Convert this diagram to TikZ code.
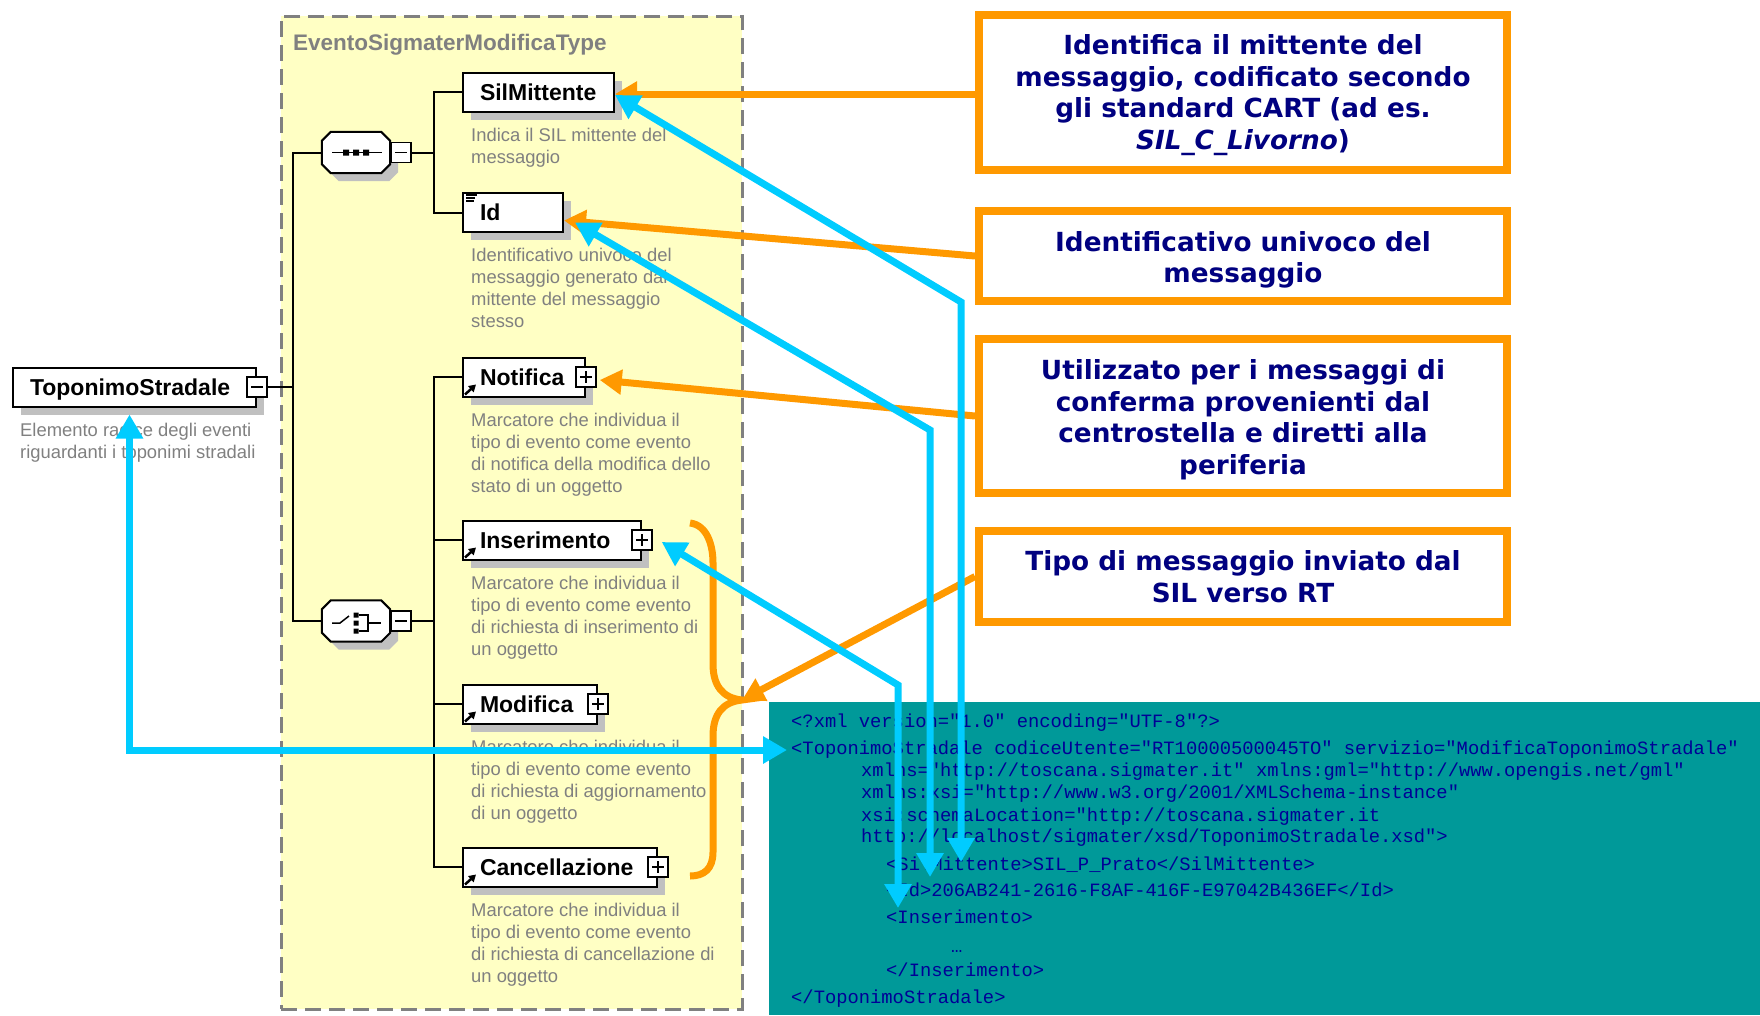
\documentclass[tikz,border=0pt]{standalone}
\usepackage{fontspec}
\setmainfont{Liberation Sans}
\newfontfamily\notefont{DejaVu Sans}
\newfontfamily\xmlfont{Liberation Mono}
\usetikzlibrary{arrows.meta, positioning, shadows}

\definecolor{calloutorange}{RGB}{255,153,0}
\definecolor{linkblue}{RGB}{0,204,255}
\definecolor{notenavy}{RGB}{0,0,128}
\definecolor{xmlnavy}{RGB}{0,0,150}
\definecolor{xmlteal}{RGB}{0,153,153}
\definecolor{typeyellow}{RGB}{255,255,196}
\definecolor{descgray}{RGB}{128,128,128}
\definecolor{shadowgray}{RGB}{192,192,192}

\begin{document}
\begin{tikzpicture}[x=1pt, y=-1pt]

\tikzset{typebox/.style = {draw=descgray, line width=2.5pt, dash pattern=on 16pt off 8pt, fill=typeyellow, anchor=north west, inner sep=0pt, minimum width=461pt, minimum height=993pt}}
\tikzset{typetitle/.style = {anchor=west, inner sep=0pt, text=descgray, font=\bfseries\fontsize{22.5}{27}\selectfont}}
\tikzset{boxshadow/.style = {drop shadow={shadow xshift=8pt, shadow yshift=-8pt, fill=shadowgray, opacity=1}}}
\tikzset{elem/.style = {draw, line width=2pt, fill=white, boxshadow, anchor=west, align=left, inner xsep=17pt, inner ysep=0pt, minimum height=39pt, text height=17pt, text depth=1pt, font=\bfseries\fontsize{23}{27}\selectfont, execute at begin node={\hyphenpenalty=10000\relax}}}
\tikzset{comp/.style = {inner sep=0pt, minimum width=68pt, minimum height=41pt}}
\tikzset{compline/.style = {draw, line width=2pt, fill=white, boxshadow}}
\tikzset{pm/.style = {draw, line width=1.5pt, fill=white, inner sep=0pt, minimum size=20pt}}
\tikzset{plusbox/.style = {pm, path picture={\draw[line width=1.5pt] ([xshift=4pt]path picture bounding box.west) -- ([xshift=-4pt]path picture bounding box.east) ([yshift=-4pt]path picture bounding box.north) -- ([yshift=4pt]path picture bounding box.south);}}}
\tikzset{minusbox/.style = {pm, path picture={\draw[line width=1.5pt] ([xshift=4pt]path picture bounding box.west) -- ([xshift=-4pt]path picture bounding box.east);}}}
\tikzset{tree/.style = {line width=2pt}}
\tikzset{refarrow/.style = {line width=2.5pt, -{Triangle[length=7pt,width=8pt]}}}
\tikzset{desc/.style = {inner sep=0pt, align=left, text=descgray, font=\fontsize{18.4}{22}\selectfont, execute at begin node=\strut}}
\tikzset{note/.style = {draw=calloutorange, line width=8pt, fill=white, minimum width=528pt}}
\tikzset{notetext/.style = {align=center, text=notenavy, font=\notefont\bfseries\fontsize{26.3}{31.7}\selectfont}}
\tikzset{xmlbox/.style = {fill=xmlteal, anchor=north west, inner sep=0pt, minimum width=991pt, minimum height=313pt}}
\tikzset{xml/.style = {anchor=west, inner xsep=4pt, inner ysep=0pt, text=xmlnavy, font=\xmlfont\fontsize{18.8}{22}\selectfont, execute at begin node=\strut}}
\tikzset{bracepath/.style = {draw=calloutorange, line width=7pt}}
\tikzset{callout/.style = {draw=calloutorange, line width=7pt, >={Triangle[length=22pt,width=24pt]}, ->}}
\tikzset{link/.style = {draw=linkblue, line width=7pt, >={Triangle[length=24pt,width=26pt]}, <->}}

\useasboundingbox (0,0) rectangle (1760,1015);

%type box
\node[typebox] (type) at (280,15) {};
\node[typetitle] (type-title) at (293,45) {EventoSigmaterModificaType};

%elements
\node[elem, text width=209pt] (topo) at (12,387) {ToponimoStradale};
\node[minusbox] (topo-pm) at (topo.east) {};
\node[comp] (seq) at (356,152.5) {};
\draw[compline] ([xshift=9pt]seq.north west) -- ([xshift=-9pt]seq.north east) -- ([yshift=-9pt]seq.north east) -- ([yshift=9pt]seq.south east) -- ([xshift=-9pt]seq.south east) -- ([xshift=9pt]seq.south west) -- ([yshift=9pt]seq.south west) -- ([yshift=-9pt]seq.north west) -- cycle;
\node[minusbox, anchor=west] (seq-pm) at (seq.east) {};
\node[comp] (choice) at (356,621) {};
\draw[compline] ([xshift=9pt]choice.north west) -- ([xshift=-9pt]choice.north east) -- ([yshift=-9pt]choice.north east) -- ([yshift=9pt]choice.south east) -- ([xshift=-9pt]choice.south east) -- ([xshift=9pt]choice.south west) -- ([yshift=9pt]choice.south west) -- ([yshift=-9pt]choice.north west) -- cycle;
\node[minusbox, anchor=west] (choice-pm) at (choice.east) {};
\node[elem, text width=117pt] (sil) at (462,92) {SilMittente};
\node[elem, text width=66pt] (id) at (462,212.5) {Id};
\node[elem, text width=88pt] (not) at (462,377) {Notifica};
\node[plusbox] (not-pm) at (not.east) {};
\node[elem, text width=144pt] (ins) at (462,540) {Inserimento};
\node[plusbox] (ins-pm) at (ins.east) {};
\node[elem, text width=100pt] (mod) at (462,704) {Modifica};
\node[plusbox] (mod-pm) at (mod.east) {};
\node[elem, text width=160pt] (canc) at (462,867) {Cancellazione};
\node[plusbox] (canc-pm) at (canc.east) {};

%tree
\coordinate (root-bus) at (293,387);
\draw[tree] (topo-pm.east) -- (root-bus);
\draw[tree] (seq.west) -| (root-bus |- choice.west) -- (choice.west);
\coordinate (seq-bus) at ([xshift=22pt]seq-pm.east);
\draw[tree] (seq-pm.east) -- (seq-bus);
\draw[tree] (sil.west) -| (seq-bus) |- (id.west);
\coordinate (choice-bus) at ([xshift=22pt]choice-pm.east);
\draw[tree] (choice-pm.east) -- (choice-bus);
\draw[tree] (not.west) -| (choice-bus) |- (canc.west);
\draw[tree] (ins.west) -- (ins.west -| choice-bus);
\draw[tree] (mod.west) -- (mod.west -| choice-bus);

%icons
\begin{scope}[shift={(seq.center)}, line width=1.5pt]
\draw (-24,0) -- (26,0);
\fill (-13,-3) rectangle (-7,3) (-3,-3) rectangle (3,3) (7,-3) rectangle (13,3);
\end{scope}
\begin{scope}[shift={(choice.center)}, line width=1.5pt]
\draw (-24,2) -- (-16,2) -- (-7,-5);
\fill (-2.5,-8.5) rectangle (2.5,-3.5) (-2.5,-0.5) rectangle (2.5,4.5) (-2.5,7.5) rectangle (2.5,12.5);
\draw (2.5,-6) -- (12,-6) -- (12,10) -- (2.5,10) (12,2) -- (25,2);
\end{scope}
\draw[line width=1.2pt] ([shift={(4,3)}]id.north west) -- ++(11,0) ([shift={(4,6)}]id.north west) -- ++(9,0) ([shift={(4,9)}]id.north west) -- ++(8,0);
\draw[refarrow] ([shift={(3,-3)}]not.south west) -- ++(11,-10);
\draw[refarrow] ([shift={(3,-3)}]ins.south west) -- ++(11,-10);
\draw[refarrow] ([shift={(3,-3)}]mod.south west) -- ++(11,-10);
\draw[refarrow] ([shift={(3,-3)}]canc.south west) -- ++(11,-10);

%descriptions
\node[desc, below right=15pt and 8pt of topo.south west] (topo-desc) {Elemento radice degli eventi\\riguardanti i toponimi stradali};
\node[desc, below right=15pt and 9pt of sil.south west] (sil-desc) {Indica il SIL mittente del\\messaggio};
\node[desc, below right=15pt and 9pt of id.south west] (id-desc) {Identificativo univoco del\\messaggio generato dal\\mittente del messaggio\\stesso};
\node[desc, below right=15pt and 9pt of not.south west] (not-desc) {Marcatore che individua il\\tipo di evento come evento\\di notifica della modifica dello\\stato di un oggetto};
\node[desc, below right=15pt and 9pt of ins.south west] (ins-desc) {Marcatore che individua il\\tipo di evento come evento\\di richiesta di inserimento di\\un oggetto};
\node[desc, below right=15pt and 9pt of mod.south west] (mod-desc) {Marcatore che individua il\\tipo di evento come evento\\di richiesta di aggiornamento\\di un oggetto};
\node[desc, below right=15pt and 9pt of canc.south west] (canc-desc) {Marcatore che individua il\\tipo di evento come evento\\di richiesta di cancellazione di\\un oggetto};

%xml
\node[xmlbox] (xml-box) at (769,702) {};
\node[xml] (xml-head) at (787,723) {<?xml version="1.0" encoding="UTF-8"?>};
\node[xml] (xml-root) at (787,750) {<ToponimoStradale codiceUtente="RT10000500045TO" servizio="ModificaToponimoStradale"};
\node[xml] (xml-ns) at (857,772) {xmlns="http://toscana.sigmater.it" xmlns:gml="http://www.opengis.net/gml"};
\node[xml] (xml-xsi) at (857,794) {xmlns:xsi="http://www.w3.org/2001/XMLSchema-instance"};
\node[xml] (xml-loc) at (857,817) {xsi:schemaLocation="http://toscana.sigmater.it};
\node[xml] (xml-xsd) at (857,838) {http://localhost/sigmater/xsd/ToponimoStradale.xsd">};
\node[xml] (xml-sil) at (882,866) {<SilMittente>SIL\_P\_Prato</SilMittente>};
\node[xml] (xml-id) at (882,892) {<Id>206AB241-2616-F8AF-416F-E97042B436EF</Id>};
\node[xml] (xml-ins) at (882,919) {<Inserimento>};
\node[xml] (xml-dots) at (947,948) {…};
\node[xml] (xml-insend) at (882,972) {</Inserimento>};
\node[xml] (xml-end) at (787,999) {</ToponimoStradale>};

%notes
\node[note, minimum height=155pt, label={[notetext, yshift=-3.2pt]center:{Identifica il mittente del\\messaggio, codificato secondo\\gli standard CART (ad es.\\\textit{SIL\_C\_Livorno})}}] (note-sil) at (1243,92) {};
\node[note, minimum height=90pt, label={[notetext, yshift=-3.8pt]center:{Identificativo univoco del\\messaggio}}] (note-id) at (1243,256) {};
\node[note, minimum height=154pt, label={[notetext, yshift=-3.8pt]center:{Utilizzato per i messaggi di\\conferma provenienti dal\\centrostella e diretti alla\\periferia}}] (note-not) at (1243,416) {};
\node[note, minimum height=91pt, label={[notetext, yshift=-0.4pt]center:{Tipo di messaggio inviato dal\\SIL verso RT}}] (note-msg) at (1243,576.5) {};

%orange callouts
\coordinate (brace-tip) at (742,700);
\draw[bracepath] (690,523) .. controls (707,525) and (713,545) .. (713,563) -- (713,664) .. controls (713,685) and (722,698) .. (brace-tip) .. controls (722,702) and (713,715) .. (713,736) -- (713,852) .. controls (713,869) and (704,876) .. (690,876);
\draw[callout] ([yshift=-2pt]note-sil.west) -- ([yshift=-2pt]sil.east);
\draw[callout] (note-id.west) -- ([yshift=-8pt]id.east);
\draw[callout] (note-not.west) -- ([xshift=3pt,yshift=-3pt]not-pm.east);
\draw[callout] (note-msg.west) -- (brace-tip);

%blue links
\draw[link] ([xshift=-5pt,yshift=-7pt]topo.south) |- (xml-root.west);
\coordinate (sil-bend) at (961,302);
\coordinate (sil-end) at (961,862);
\draw[link] ([yshift=-3pt]sil.east) -- (sil-bend) -- (sil-end);
\coordinate (id-bend) at (930,430);
\coordinate (id-end) at (930,877);
\draw[link] ([xshift=11pt,yshift=-10pt]id.east) -- (id-bend) -- (id-end);
\coordinate (ins-bend) at (898,685);
\coordinate (ins-end) at (898,908);
\draw[link] ([xshift=9pt,yshift=-2pt]ins-pm.east) -- (ins-bend) -- (ins-end);

\end{tikzpicture}
\end{document}
